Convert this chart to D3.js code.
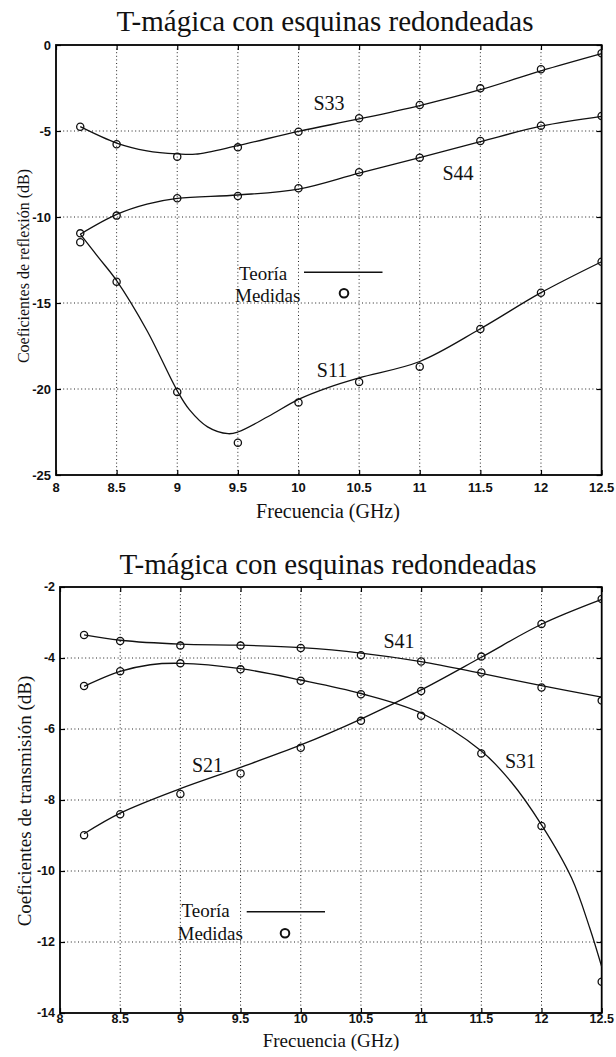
<!DOCTYPE html>
<html>
<head>
<meta charset="utf-8">
<script src="https://cdn.jsdelivr.net/npm/d3@7"></script>
<style>
  html, body { margin: 0; padding: 0; background: #fff; }
  svg { display: block; }
  .serif { font-family: "Liberation Serif", "Times New Roman", serif; fill: #111; }
  .tick-lbl { font-family: "Liberation Sans", Arial, sans-serif; font-weight: bold; fill: #111; }
</style>
</head>
<body>
<svg id="fig" width="616" height="1057"></svg>
<script>
// Measured frequencies (GHz)
const freqs = [8.2, 8.5, 9, 9.5, 10, 10.5, 11, 11.5, 12, 12.5];

// Reflection coefficients, measured (dB)
const s33Med = [-4.75, -5.77, -6.49, -5.95, -5.04, -4.26, -3.49, -2.52, -1.41, -0.48];
const s44Med = [-10.95, -9.92, -8.91, -8.78, -8.33, -7.40, -6.55, -5.58, -4.69, -4.13];
const s11Med = [-11.47, -13.76, -20.17, -23.12, -20.78, -19.59, -18.70, -16.51, -14.40, -12.60];

// Reflection coefficients, theory (dB)
const s33TeoF = [8.2, 8.5, 8.75, 9, 9.15, 9.5, 10, 10.5, 11, 11.5, 12, 12.5];
const s33Teo  = [-4.75, -5.7, -6.15, -6.33, -6.35, -5.85, -5.02, -4.3, -3.52, -2.6, -1.5, -0.5];
const s44TeoF = [8.2, 8.5, 8.75, 9, 9.5, 10, 10.5, 11, 11.5, 12, 12.5];
const s44Teo  = [-11.0, -9.85, -9.25, -8.92, -8.72, -8.38, -7.45, -6.55, -5.62, -4.72, -4.15];
const s11TeoF = [8.2, 8.35, 8.5, 8.75, 9, 9.1, 9.25, 9.42, 9.5, 9.75, 10, 10.25, 10.5, 11, 11.5, 12, 12.5];
const s11Teo  = [-11.0, -12.35, -13.7, -16.6, -20.1, -21.2, -22.2, -22.6, -22.5, -21.6, -20.6, -19.9, -19.35, -18.4, -16.5, -14.4, -12.6];

// Transmission coefficients, measured (dB)
const s41Med = [-3.35, -3.52, -3.65, -3.65, -3.72, -3.92, -4.10, -4.41, -4.83, -5.20];
const s31Med = [-4.79, -4.37, -4.15, -4.32, -4.64, -5.02, -5.63, -6.69, -8.73, -13.12];
const s21Med = [-8.99, -8.40, -7.83, -7.25, -6.53, -5.77, -4.93, -3.96, -3.04, -2.34];

// Transmission coefficients, theory (dB)
const s41TeoF = [8.2, 8.5, 9, 9.5, 10, 10.5, 11, 11.5, 12, 12.5];
const s41Teo  = [-3.35, -3.5, -3.61, -3.64, -3.71, -3.86, -4.1, -4.43, -4.78, -5.1];
const s31TeoF = [8.2, 8.5, 8.75, 9, 9.5, 10, 10.5, 11, 11.5, 11.75, 12, 12.25, 12.4, 12.5];
const s31Teo  = [-4.8, -4.38, -4.19, -4.15, -4.3, -4.62, -5.0, -5.55, -6.62, -7.5, -8.7, -10.2, -11.6, -12.7];
const s21TeoF = [8.2, 8.5, 9, 9.5, 10, 10.5, 11, 11.5, 12, 12.5];
const s21Teo  = [-8.95, -8.37, -7.68, -7.08, -6.45, -5.72, -4.9, -3.98, -3.05, -2.35];

// Axis ticks
const xTicks = [8, 8.5, 9, 9.5, 10, 10.5, 11, 11.5, 12, 12.5];
const yTicksRefl = [0, -5, -10, -15, -20, -25];
const yTicksTrans = [-2, -4, -6, -8, -10, -12, -14];

// Text
const titleText = "T-mágica con esquinas redondeadas";
const xLabelText = "Frecuencia (GHz)";
const yLabelRefl = "Coeficientes de reflexión (dB)";
const yLabelTrans = "Coeficientes de transmisión (dB)";
const legendLine = "Teoría";
const legendPts = "Medidas";

const svg = d3.select("#fig");
const zip = (xs, ys) => xs.map((x, i) => [x, ys[i]]);

function panel(p) {
  const x = d3.scaleLinear().domain([8, 12.5]).range([p.left, p.right]);
  const y = d3.scaleLinear().domain(p.yDomain).range([p.top, p.bottom]);
  const g = svg.append("g");
  const clipId = "clip" + p.id;
  g.append("clipPath").attr("id", clipId)
    .append("rect").attr("x", p.left).attr("y", p.top)
    .attr("width", p.right - p.left).attr("height", p.bottom - p.top);

  // dotted grid
  const grid = g.append("g").attr("stroke", "#222").attr("stroke-width", 1)
    .attr("stroke-dasharray", "1,2.6");
  xTicks.slice(1, -1).forEach(t => grid.append("line")
    .attr("x1", x(t)).attr("x2", x(t)).attr("y1", p.top).attr("y2", p.bottom));
  p.yTicks.slice(1, -1).forEach(t => grid.append("line")
    .attr("x1", p.left).attr("x2", p.right).attr("y1", y(t)).attr("y2", y(t)));

  // axes with inward ticks
  const axB = d3.axisBottom(x).tickValues(xTicks).tickSizeInner(-5).tickSizeOuter(0).tickFormat(() => "");
  const axT = d3.axisTop(x).tickValues(xTicks).tickSizeInner(-5).tickSizeOuter(0).tickFormat(() => "");
  const axL = d3.axisLeft(y).tickValues(p.yTicks).tickSizeInner(-5).tickSizeOuter(0).tickFormat(() => "");
  const axR = d3.axisRight(y).tickValues(p.yTicks).tickSizeInner(-5).tickSizeOuter(0).tickFormat(() => "");
  [[axB, `translate(0,${p.bottom})`], [axT, `translate(0,${p.top})`],
   [axL, `translate(${p.left},0)`], [axR, `translate(${p.right},0)`]].forEach(([ax, tr]) => {
    const a = g.append("g").attr("transform", tr).call(ax);
    a.select(".domain").remove();
    a.selectAll("line").attr("stroke", "#000").attr("stroke-width", 1.2);
  });
  g.append("rect").attr("x", p.left).attr("y", p.top)
    .attr("width", p.right - p.left).attr("height", p.bottom - p.top)
    .attr("fill", "none").attr("stroke", "#000").attr("stroke-width", 1.8);

  // tick labels
  g.selectAll(".xl").data(xTicks).enter().append("text").attr("class", "tick-lbl")
    .attr("x", d => x(d)).attr("y", p.bottom + p.xLblDy).attr("text-anchor", "middle")
    .attr("font-size", p.tickSize).text(d => d3.format("")(d));
  g.selectAll(".yl").data(p.yTicks).enter().append("text").attr("class", "tick-lbl")
    .attr("x", p.left - 5).attr("y", d => y(d)).attr("dy", "0.35em").attr("text-anchor", "end")
    .attr("font-size", p.tickSize).text(d => d);

  // curves and measured points
  const line = d3.line().x(d => x(d[0])).y(d => y(d[1])).curve(d3.curveCatmullRom.alpha(0.5));
  const plot = g.append("g").attr("clip-path", `url(#${clipId})`);
  p.series.forEach(s => {
    plot.append("path").datum(zip(s.tf, s.tv)).attr("d", line)
      .attr("fill", "none").attr("stroke", "#111").attr("stroke-width", 1.3);
    plot.selectAll(null).data(zip(freqs, s.mv)).enter().append("circle")
      .attr("cx", d => x(d[0])).attr("cy", d => y(d[1])).attr("r", 3.6)
      .attr("fill", "none").attr("stroke", "#111").attr("stroke-width", 1.3);
    g.append("text").attr("class", "serif").attr("font-size", p.seriesSize)
      .attr("text-anchor", "middle").attr("x", s.lx).attr("y", s.ly).text(s.name);
  });

  // legend
  const L = p.legend;
  g.append("text").attr("class", "serif").attr("font-size", L.size)
    .attr("x", L.tx).attr("y", L.ty1).text(legendLine);
  g.append("text").attr("class", "serif").attr("font-size", L.size)
    .attr("x", L.tx - 4).attr("y", L.ty2).text(legendPts);
  g.append("line").attr("x1", L.lx1).attr("x2", L.lx2).attr("y1", L.ly).attr("y2", L.ly)
    .attr("stroke", "#111").attr("stroke-width", 1.6);
  g.append("circle").attr("cx", L.cx).attr("cy", L.cy).attr("r", 4.3)
    .attr("fill", "none").attr("stroke", "#111").attr("stroke-width", 2);

  // titles
  g.append("text").attr("class", "serif").attr("font-size", p.titleSize)
    .attr("text-anchor", "middle").attr("x", p.titleX).attr("y", p.titleY).text(titleText);
  g.append("text").attr("class", "serif").attr("font-size", p.xTitleSize)
    .attr("text-anchor", "middle").attr("x", p.xTitleX).attr("y", p.xTitleY).text(xLabelText);
  g.append("text").attr("class", "serif").attr("font-size", p.yTitleSize)
    .attr("text-anchor", "middle")
    .attr("transform", `translate(${p.yTitleX},${p.yTitleY}) rotate(-90)`)
    .attr("dy", "0.35em").text(p.yTitle);
}

panel({
  id: "refl", left: 56, right: 601.6, top: 45, bottom: 475,
  yDomain: [0, -25], yTicks: yTicksRefl, tickSize: 13, xLblDy: 16.5,
  titleSize: 29, titleX: 325, titleY: 31,
  xTitleSize: 20, xTitleX: 328, xTitleY: 518,
  yTitle: yLabelRefl, yTitleSize: 16, yTitleX: 23, yTitleY: 266,
  seriesSize: 20,
  series: [
    { name: "S33", tf: s33TeoF, tv: s33Teo, mv: s33Med, lx: 329, ly: 110 },
    { name: "S44", tf: s44TeoF, tv: s44Teo, mv: s44Med, lx: 458, ly: 180 },
    { name: "S11", tf: s11TeoF, tv: s11Teo, mv: s11Med, lx: 332, ly: 376.5 }
  ],
  legend: { size: 19, tx: 239, ty1: 280, ty2: 301.5, lx1: 304, lx2: 382.5, ly: 272.3, cx: 344, cy: 293.3 }
});

panel({
  id: "trans", left: 60, right: 601.7, top: 587, bottom: 1013,
  yDomain: [-2, -14], yTicks: yTicksTrans, tickSize: 12.5, xLblDy: 10,
  titleSize: 29, titleX: 328, titleY: 574,
  xTitleSize: 19, xTitleX: 331, xTitleY: 1047,
  yTitle: yLabelTrans, yTitleSize: 19, yTitleX: 24.5, yTitleY: 801,
  seriesSize: 20,
  series: [
    { name: "S41", tf: s41TeoF, tv: s41Teo, mv: s41Med, lx: 399, ly: 648.3 },
    { name: "S31", tf: s31TeoF, tv: s31Teo, mv: s31Med, lx: 520.5, ly: 768 },
    { name: "S21", tf: s21TeoF, tv: s21Teo, mv: s21Med, lx: 207.5, ly: 771.5 }
  ],
  legend: { size: 19, tx: 181.5, ty1: 916.7, ty2: 940, lx1: 246.7, lx2: 325, ly: 911.7, cx: 285, cy: 933.3 }
});
</script>
</body>
</html>
